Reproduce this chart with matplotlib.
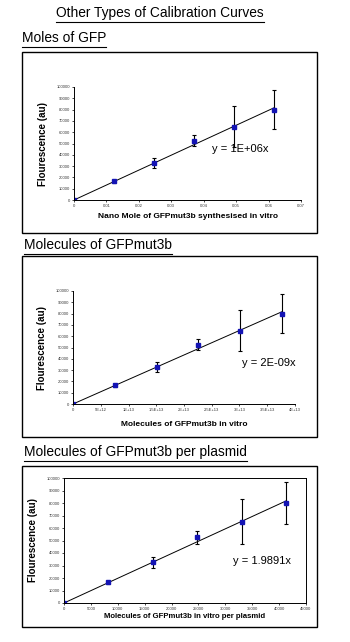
import matplotlib
matplotlib.use("Agg")
import matplotlib.pyplot as plt
import numpy as np
from matplotlib.patches import Rectangle
from matplotlib.lines import Line2D
from matplotlib.ticker import FuncFormatter, MultipleLocator

plt.rcParams["font.family"] = ["Liberation Sans", "DejaVu Sans"]

# same measurements, three different x units
fluorescence = [0, 16500, 32500, 52500, 65000, 80000]
fluorescence_err = [0, 1500, 4500, 5000, 18000, 17000]
nano_moles = [0, 0.01235, 0.0247, 0.0371, 0.0494, 0.0618]
molecules = [0, 7.6e12, 1.51e13, 2.26e13, 3.01e13, 3.77e13]
molecules_per_plasmid = [0, 8250, 16500, 24800, 33100, 41300]

page_title = "Other Types of Calibration Curves"
section_titles = ["Moles of GFP", "Molecules of GFPmut3b",
                  "Molecules of GFPmut3b per plasmid"]
x_labels = ["Nano Mole of GFPmut3b synthesised in vitro",
            "Molecules of GFPmut3b in vitro",
            "Molecules of GFPmut3b in vitro per plasmid"]
equations = ["y = 1E+06x", "y = 2E-09x", "y = 1.9891x"]
x_limits = [0.07, 4e13, 45000]
x_steps = [0.01, 5e12, 5000]

W, H = 350, 642
fig = plt.figure(figsize=(W / 100, H / 100), dpi=100)


def px(x, y):
    """pixel (from top-left) -> figure fraction"""
    return x / W, 1 - y / H


def underline_text(x, y, s, size, ha="left"):
    t = fig.text(*px(x, y), s, fontsize=size, ha=ha, va="center")
    fig.canvas.draw()
    bb = t.get_window_extent()
    yl = bb.y0 - 1.5
    fig.add_artist(Line2D([bb.x0 / W, bb.x1 / W], [yl / H, yl / H],
                          color="black", lw=0.8, transform=fig.transFigure))
    return t


def sci_label(v, pos):
    if v == 0:
        return "0"
    return "{:.1E}".format(v).replace(".0E", "E")


def plain_label(v, pos):
    return "{:g}".format(round(v, 6))


underline_text(160, 13, page_title, 9.9, ha="center")

boxes = [(22, 52, 317, 233), (22, 256, 317, 437), (22, 466, 317, 627)]
heads = [(22, 38), (24, 245), (24, 452)]
axes_px = [(74, 87, 301, 200), (73, 291, 295, 404), (64, 478, 306, 603)]
eq_pos = [(212, 149), (242, 363), (233, 561)]
xlab_y = [217, 424, 617]
xdata = [nano_moles, molecules, molecules_per_plasmid]

for i in range(3):
    x0, y0, x1, y1 = boxes[i]
    fig.add_artist(Rectangle(px(x0, y1), (x1 - x0) / W, (y1 - y0) / H,
                             transform=fig.transFigure, fill=False,
                             edgecolor="black", lw=1.0))
    underline_text(heads[i][0], heads[i][1], section_titles[i], 9.9)

    l, t, r, b = axes_px[i]
    ax = fig.add_axes([l / W, 1 - b / H, (r - l) / W, (b - t) / H])
    x = np.array(xdata[i])
    y = np.array(fluorescence)
    slope = np.sum(x * y) / np.sum(x * x)
    ax.plot([0, x[-1]], [0, slope * x[-1]], color="black", lw=0.7)
    ax.errorbar(x, y, yerr=fluorescence_err, fmt="none", ecolor="black",
                elinewidth=0.8, capsize=1.5, capthick=0.8)
    ax.plot(x, y, "s", color="#1414b4", markersize=2.2)

    ax.set_xlim(0, x_limits[i])
    ax.set_ylim(0, 100000)
    ax.xaxis.set_major_locator(MultipleLocator(x_steps[i]))
    ax.yaxis.set_major_locator(MultipleLocator(10000))
    if i == 1:
        ax.xaxis.set_major_formatter(FuncFormatter(sci_label))
    else:
        ax.xaxis.set_major_formatter(FuncFormatter(plain_label))
    ax.tick_params(labelsize=3, length=1.5, width=0.5, pad=1.5,
                   labelcolor="#333333")
    for sp in ax.spines.values():
        sp.set_linewidth(0.7)
    if i < 2:
        ax.spines["top"].set_visible(False)
        ax.spines["right"].set_visible(False)
    ax.set_ylabel("Flourescence (au)", fontsize=7, fontweight="bold", labelpad=6)
    fig.text(*px((l + r) / 2, xlab_y[i]), x_labels[i], fontsize=6 if i < 2 else 5.6,
             fontweight="bold", ha="center", va="center")
    fig.text(*px(*eq_pos[i]), equations[i], fontsize=8, ha="left", va="center")

fig.savefig("out.png", dpi=100)
